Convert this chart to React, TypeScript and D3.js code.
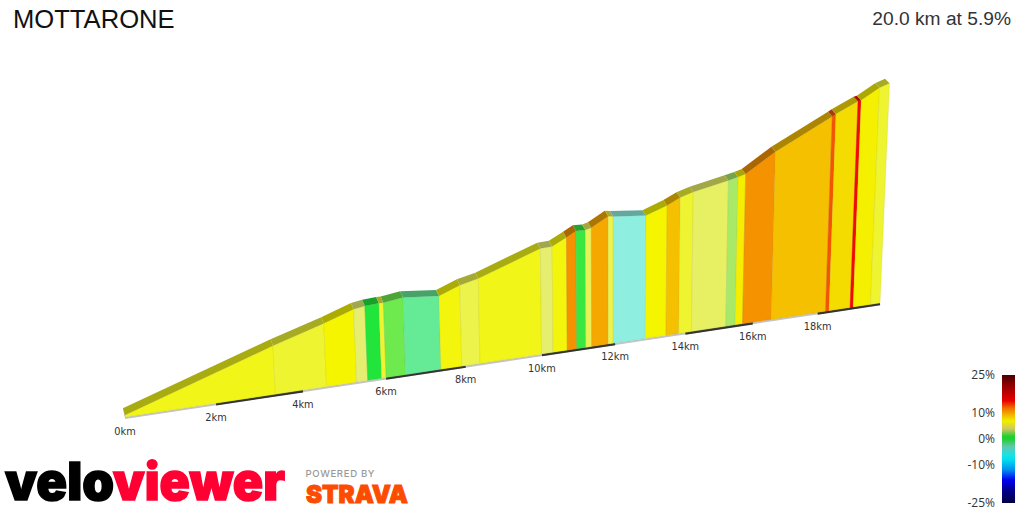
import * as d3 from "d3";

const TITLE = "MOTTARONE";
const SUMMARY = "20.0 km at 5.9%";

// climb profile: boundaries of each gradient section
const distances = [
  0, 3.36, 4.56, 5.28, 5.55, 5.89, 6.0, 6.48, 7.37, 7.9, 8.37, 9.99, 10.3, 10.68, 10.94, 11.19,
  11.35, 11.81, 11.95, 12.85, 13.44, 13.81, 14.18, 15.19, 15.47, 15.69, 16.56, 18.25, 18.36,
  19.03, 19.13, 19.69, 20,
];
const elevations = [
  8, 220, 290, 338, 346, 350, 350, 363, 348, 386, 407, 516, 519, 555, 581, 580, 588, 636, 632,
  618, 657, 690, 711, 751, 763, 775, 875, 1033, 1045, 1102, 1106, 1165, 1185,
];
const gradients = [
  6, 5.5, 7, 3.5, 0.5, 5.5, 1.5, -1, 6.5, 5, 6, 3.5, 6.5, 11, 0.8, 4.5, 10, 5, -3, 7, 9, 5.5, 4,
  2.5, 7.3, 11, 9, 14, 8, 17, 7.2, 5.5,
];
const kmTicks = [0, 2, 4, 6, 8, 10, 12, 14, 16, 18];
const legendTicks = [25, 10, 0, -10, -25];

const faceDomain = [-3, -1, 0.5, 1.5, 2.5, 3.5, 5, 6, 7, 8, 9, 10, 11, 14, 17, 20, 25];
const faceRange = [
  "#8eeee0", "#65ea95", "#22e53c", "#6eea4e", "#a8ea68", "#e5ee6e", "#ecf34a", "#f2f518",
  "#f5f500", "#f5dc00", "#f5c000", "#f5a800", "#f59200", "#f55500", "#f50a00", "#a00000", "#4a0000",
];
const legendDomain = [25, 20, 15, 12, 9, 7, 4, 1, 0, -3, -6, -8, -12, -16, -20, -25];
const legendRange = [
  "#4a0000", "#a00000", "#e80000", "#f07000", "#f0c000", "#f0f000", "#d0c860", "#20d030",
  "#20d030", "#60c8b0", "#20e0e0", "#00e0f0", "#0090f0", "#0000f0", "#000090", "#000040",
];

const faceColor = d3.scaleLinear<string>().domain(faceDomain).range(faceRange);
const legendColor = d3.scaleLinear<string>().domain(legendDomain).range(legendRange);

// perspective: the road runs away from the viewer, so further km are squeezed
const depth = (km: number) => 1 + km / 85.7;
const xScale = d3.scaleLinear().domain([0, 20 / depth(20)]).range([125, 880]);
const baseY = d3.scaleLinear().domain([125, 880]).range([417, 303]);
const heightScale = d3.scaleLinear().domain([0, 1185]).range([0, 271]);
const legendY = d3.scaleLinear().domain([25, -25]).range([375, 503]);

const baseX = (km: number) => xScale(km / depth(km));

type Pt = [number, number];

function front(km: number, elev: number): Pt {
  const x = baseX(km);
  const h = heightScale(elev) / depth(km);
  return [x + h * (x - 610) * 1.6e-4, baseY(x) - h];
}

function back(km: number, elev: number): Pt {
  const [x, y] = front(km, elev);
  return [x - 2 - (2.5 * km) / 20, y - 7 + (2.5 * km) / 20];
}

function ground(km: number): Pt {
  const x = baseX(km);
  return [x, baseY(x)];
}

const poly = d3.line<Pt>().curve(d3.curveLinearClosed);

export default function App() {
  const sections = gradients.map((g, i) => ({
    g,
    fill: faceColor(g),
    km0: distances[i],
    km1: distances[i + 1],
    e0: elevations[i],
    e1: elevations[i + 1],
  }));

  return (
    <svg
      width={1024}
      height={512}
      style={{ position: "absolute", left: 0, top: 0, display: "block", background: "#fff" }}
    >
      <defs>
        <linearGradient id="legend-grad" x1="0" y1="0" x2="0" y2="1">
          {legendDomain.map((d) => (
            <stop key={d} offset={(legendY(d) - 375) / 128} stopColor={legendColor(d)} />
          ))}
        </linearGradient>
      </defs>

      <text x={13} y={28} fontFamily="Liberation Sans" fontSize={25.6} fill="#111">
        {TITLE}
      </text>
      <text x={1011} y={25} textAnchor="end" fontFamily="Liberation Sans" fontSize={19.2} fill="#333">
        {SUMMARY}
      </text>

      {/* ground strip */}
      <path
        d={d3.line<number>().x((k) => ground(k)[0]).y((k) => ground(k)[1] + 1)([0, 20]) ?? ""}
        stroke="#c4c4c4"
        strokeWidth={2}
        fill="none"
      />
      {kmTicks
        .filter((k) => k % 4 === 2)
        .map((k) => (
          <path
            key={k}
            d={d3.line<number>().x((v) => ground(v)[0]).y((v) => ground(v)[1] + 1)([k, k + 2]) ?? ""}
            stroke="#333"
            strokeWidth={2.6}
            fill="none"
          />
        ))}

      {/* gradient sections: front wall then road surface */}
      {sections.map((s, i) => (
        <g key={i}>
          <path
            d={poly([ground(s.km0), ground(s.km1), front(s.km1, s.e1), front(s.km0, s.e0)]) ?? ""}
            fill={s.fill}
            stroke={d3.color(s.fill)?.darker(0.5).formatHex()}
            strokeOpacity={0.3}
            strokeWidth={1}
          />
          <path
            d={poly([front(s.km0, s.e0), front(s.km1, s.e1), back(s.km1, s.e1), back(s.km0, s.e0)]) ?? ""}
            fill={d3.color(s.fill)?.darker(1).formatHex()}
          />
        </g>
      ))}
      <path
        d={poly([ground(0), front(0, elevations[0]), back(0, elevations[0])]) ?? ""}
        fill="#777"
      />

      {kmTicks.map((k) => (
        <text
          key={k}
          x={ground(k)[0]}
          y={ground(k)[1] + 17.5}
          textAnchor="middle"
          fontFamily="DejaVu Sans"
          fontSize={9.8}
          fill="#333"
        >
          {k}km
        </text>
      ))}

      {/* legend */}
      <rect x={1002} y={legendY(25)} width={13} height={legendY(-25) - legendY(25)} fill="url(#legend-grad)" />
      {legendTicks.map((t) => (
        <text
          key={t}
          x={995}
          y={legendY(t) + 4}
          textAnchor="end"
          fontFamily="Open Sans"
          fontSize={12}
          fill="#333"
        >
          {t}%
        </text>
      ))}

      {/* logos */}
      <text
        x={5}
        y={499.5}
        fontFamily="Inter"
        fontWeight={900}
        fontSize={52}
        textLength={109}
        lengthAdjust="spacingAndGlyphs"
        fill="#000"
        stroke="#000"
        strokeWidth={1.5}
      >
        velo
      </text>
      <text
        x={113}
        y={499.5}
        fontFamily="Inter"
        fontWeight={900}
        fontSize={52}
        textLength={172}
        lengthAdjust="spacingAndGlyphs"
        fill="#ff0033"
        stroke="#ff0033"
        strokeWidth={1.5}
      >
        viewer
      </text>
      <text
        x={305.5}
        y={476.5}
        fontFamily="Inter"
        fontWeight={500}
        fontSize={9.6}
        textLength={69}
        fill="#999"
      >
        POWERED BY
      </text>
      <text
        x={306}
        y={503}
        fontFamily="Inter"
        fontWeight={900}
        fontSize={25}
        textLength={102}
        lengthAdjust="spacingAndGlyphs"
        fill="#fc4c02"
        stroke="#fc4c02"
        strokeWidth={1}
      >
        STRAVA
      </text>
    </svg>
  );
}
